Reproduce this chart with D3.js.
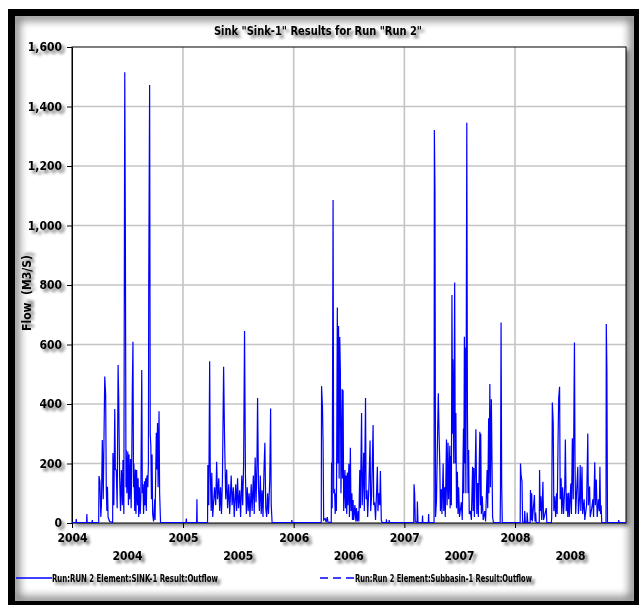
<!DOCTYPE html>
<html>
<head>
<meta charset="utf-8">
<script src="https://cdn.jsdelivr.net/npm/d3@7"></script>
<style>
body { margin: 0; background: #fff; }
svg text { font-family: "Liberation Sans Narrow", "DejaVu Sans Condensed", sans-serif; font-weight: bold; fill: #000; }
</style>
</head>
<body>
<svg id="chart"></svg>
<script>
var title = 'Sink "Sink-1" Results for Run "Run 2"';
var yLabel = "Flow  (M3/S)";
var years = [2004, 2005, 2006, 2007, 2008];
var yTicks = [0, 200, 400, 600, 800, 1000, 1200, 1400, 1600];
var legendLabels = ["Run:RUN 2 Element:SINK-1 Result:Outflow", "Run:Run 2 Element:Subbasin-1 Result:Outflow"];

// [day of year, flow m3/s]
var flow2004 = [[1,1],[14,1],[15,13],[16,1],[49,1],[50,30],[51,1],[67,1],[68,10],[69,1],[89,1],[90,158],[93,140],[96,20],[98,60],[101,279],[104,80],[109,492],[112,430],[114,120],[116,40],[118,122],[120,20],[125,5],[135,2],[136,235],[139,60],[142,383],[144,180],[147,178],[150,50],[153,531],[155,420],[158,158],[161,40],[164,178],[167,60],[169,212],[172,30],[175,1515],[177,970],[179,120],[180,245],[182,100],[185,240],[187,60],[189,230],[191,80],[194,215],[196,50],[198,200],[200,457],[202,609],[204,120],[205,200],[208,40],[210,180],[212,30],[214,178],[217,60],[219,150],[221,20],[223,120],[226,30],[228,90],[231,514],[233,100],[235,130],[237,30],[240,140],[242,60],[244,150],[246,40],[248,160],[251,120],[253,200],[254,786],[257,1472],[259,300],[261,259],[263,80],[265,230],[267,30],[270,5],[274,80],[275,10],[279,303],[281,180],[283,336],[285,120],[288,376],[290,100],[293,1],[366,1]];
var flow2005 = [[1,1],[11,1],[12,15],[13,1],[46,1],[47,80],[48,1],[82,2],[83,195],[86,60],[89,544],[91,180],[94,40],[96,169],[99,20],[105,120],[109,60],[112,206],[115,80],[119,150],[122,40],[125,120],[128,30],[131,140],[135,525],[138,290],[142,80],[145,180],[148,50],[152,130],[155,30],[160,160],[163,60],[167,120],[170,20],[175,130],[178,40],[181,150],[184,50],[188,110],[191,20],[195,160],[198,60],[201,200],[204,645],[207,160],[210,30],[213,120],[216,40],[219,100],[222,20],[226,130],[229,40],[233,160],[236,30],[239,220],[242,70],[245,200],[247,420],[250,120],[253,40],[256,160],[259,30],[262,110],[265,20],[268,170],[271,270],[274,50],[277,20],[280,100],[283,30],[287,140],[290,385],[292,60],[295,1],[359,1],[360,10],[361,1],[365,1]];
var flow2006 = [[1,1],[92,1],[93,460],[96,391],[98,273],[100,10],[105,15],[108,3],[112,20],[114,3],[125,2],[126,203],[128,50],[131,1086],[133,105],[136,110],[138,30],[140,100],[142,40],[145,724],[147,200],[149,662],[151,150],[153,625],[155,512],[157,100],[161,450],[162,150],[164,446],[166,40],[170,178],[172,50],[174,160],[176,30],[178,170],[180,60],[183,199],[185,20],[188,253],[190,40],[193,100],[195,10],[197,77],[199,10],[203,60],[206,5],[208,50],[211,5],[214,40],[216,5],[219,178],[221,50],[225,370],[227,60],[229,120],[232,236],[234,40],[238,420],[240,80],[243,110],[245,20],[249,120],[253,277],[255,40],[258,90],[263,329],[265,60],[268,70],[271,10],[275,120],[277,189],[279,40],[282,100],[285,60],[287,175],[290,10],[293,1],[306,1],[307,12],[308,1],[315,1],[316,10],[317,1],[365,1]];
var flow2007 = [[1,1],[32,1],[33,130],[35,99],[37,5],[43,2],[44,72],[46,1],[60,1],[61,25],[62,1],[80,1],[81,30],[82,1],[99,2],[100,1321],[102,1117],[104,20],[107,75],[110,256],[113,436],[115,329],[118,189],[120,40],[123,113],[125,30],[129,200],[131,40],[134,120],[136,20],[140,281],[142,60],[145,270],[147,80],[151,260],[152,50],[154,225],[156,60],[158,766],[160,300],[161,550],[164,200],[167,808],[169,200],[171,370],[173,50],[176,172],[178,30],[180,120],[183,20],[189,70],[192,10],[196,318],[197,100],[199,626],[200,200],[202,590],[204,100],[207,1345],[209,380],[211,100],[213,245],[215,30],[219,40],[222,10],[226,189],[228,40],[230,185],[232,20],[237,315],[240,30],[243,134],[245,20],[250,307],[252,60],[253,300],[255,30],[258,90],[261,10],[266,40],[269,5],[274,178],[276,50],[279,352],[280,100],[283,467],[285,120],[288,416],[290,210],[292,20],[295,1],[317,1],[318,100],[320,674],[322,134],[324,1],[365,1]];
var flow2008 = [[1,1],[18,1],[19,200],[21,161],[24,140],[26,3],[32,1],[33,40],[35,1],[40,1],[41,35],[43,1],[51,1],[52,111],[54,10],[56,100],[58,5],[65,94],[67,5],[69,35],[71,1],[81,1],[82,178],[84,40],[86,90],[89,10],[93,139],[95,10],[104,50],[106,1],[121,1],[122,20],[124,405],[127,335],[129,40],[132,90],[135,20],[138,100],[140,30],[143,281],[145,420],[148,458],[150,80],[153,150],[155,30],[158,120],[161,30],[165,120],[167,281],[170,40],[173,100],[175,20],[178,102],[180,20],[185,133],[187,30],[190,285],[193,80],[197,607],[199,189],[201,30],[204,100],[208,189],[210,30],[214,90],[216,195],[218,40],[222,189],[224,30],[229,80],[231,10],[237,60],[239,180],[241,301],[243,60],[247,123],[249,20],[254,50],[258,80],[260,20],[264,204],[266,60],[269,146],[272,20],[276,80],[279,40],[281,189],[283,30],[285,60],[287,1],[301,1],[302,669],[304,512],[306,1],[342,1],[343,10],[344,1],[366,1]];

var yearData = [flow2004, flow2005, flow2006, flow2007, flow2008];
var series = [];
years.forEach(function (yr, i) {
    yearData[i].forEach(function (p) {
        series.push({ date: d3.utcDay.offset(new Date(Date.UTC(yr, 0, 1)), p[0] - 1), value: p[1] });
    });
});

var W = 639, H = 605;
var plot = { left: 72, top: 47, right: 626, bottom: 523 };

var svg = d3.select("#chart").attr("width", W).attr("height", H);
var defs = svg.append("defs");

var ts = defs.append("filter").attr("id", "ts").attr("x", "-20%").attr("y", "-60%").attr("width", "160%").attr("height", "240%");
ts.append("feGaussianBlur").attr("in", "SourceAlpha").attr("stdDeviation", 1.6);
ts.append("feOffset").attr("dx", 3).attr("dy", 3);
ts.append("feComponentTransfer").append("feFuncA").attr("type", "linear").attr("slope", 0.55);
var tm = ts.append("feMerge");
tm.append("feMergeNode");
tm.append("feMergeNode").attr("in", "SourceGraphic");

var ps = defs.append("filter").attr("id", "ps").attr("x", "-5%").attr("y", "-5%").attr("width", "115%").attr("height", "115%");
ps.append("feGaussianBlur").attr("in", "SourceAlpha").attr("stdDeviation", 2);
ps.append("feOffset").attr("dx", 3).attr("dy", 3);
ps.append("feComponentTransfer").append("feFuncA").attr("type", "linear").attr("slope", 0.5);
var pm = ps.append("feMerge");
pm.append("feMergeNode");
pm.append("feMergeNode").attr("in", "SourceGraphic");

var blur = defs.append("filter").attr("id", "blur").attr("x", "-10%").attr("y", "-10%").attr("width", "120%").attr("height", "120%");
blur.append("feGaussianBlur").attr("stdDeviation", 5);

defs.append("clipPath").attr("id", "inner")
    .append("rect").attr("x", 15).attr("y", 16).attr("width", 619).attr("height", 585);
defs.append("clipPath").attr("id", "plotclip")
    .append("rect").attr("x", plot.left).attr("y", plot.top - 1)
    .attr("width", plot.right - plot.left).attr("height", plot.bottom - plot.top + 1);

// black frame with inner shadow
svg.append("rect").attr("x", 8).attr("y", 9).attr("width", 640).attr("height", 600).attr("fill", "#000");
svg.append("rect").attr("x", 15).attr("y", 16).attr("width", 619).attr("height", 585).attr("fill", "#fff");
svg.append("g").attr("clip-path", "url(#inner)")
    .append("rect").attr("x", 15).attr("y", 16).attr("width", 619).attr("height", 585)
    .attr("fill", "none").attr("stroke", "#000").attr("stroke-width", 8)
    .attr("opacity", 0.55).attr("filter", "url(#blur)");

var x = d3.scaleUtc()
    .domain([new Date(Date.UTC(2004, 0, 1)), new Date(Date.UTC(2009, 0, 1))])
    .range([plot.left, plot.right]);
var y = d3.scaleLinear().domain([0, 1600]).range([plot.bottom, plot.top]);
var yearStart = years.map(function (d) { return new Date(Date.UTC(d, 0, 1)); });

// plot area
svg.append("rect")
    .attr("x", plot.left).attr("y", plot.top)
    .attr("width", plot.right - plot.left).attr("height", plot.bottom - plot.top)
    .attr("fill", "#fff").attr("filter", "url(#ps)");

// grid
svg.append("g").selectAll("line").data(yTicks.slice(1, -1)).enter().append("line")
    .attr("x1", plot.left).attr("x2", plot.right)
    .attr("y1", d => y(d)).attr("y2", d => y(d))
    .attr("stroke", "#c4c4c4").attr("stroke-width", 1.6);
svg.append("g").selectAll("line").data(yearStart.slice(1)).enter().append("line")
    .attr("x1", d => x(d)).attr("x2", d => x(d))
    .attr("y1", plot.top).attr("y2", plot.bottom)
    .attr("stroke", "#c4c4c4").attr("stroke-width", 1.6);

svg.append("rect")
    .attr("x", plot.left).attr("y", plot.top)
    .attr("width", plot.right - plot.left).attr("height", plot.bottom - plot.top)
    .attr("fill", "none").attr("stroke", "#000").attr("stroke-width", 1);

// axes
var yAxis = d3.axisLeft(y).tickValues(yTicks).tickFormat(d3.format(",")).tickSize(5).tickSizeOuter(0).tickPadding(5);
var gy = svg.append("g").attr("transform", "translate(" + plot.left + ",0)").call(yAxis);
gy.select(".domain").attr("stroke", "#000");
gy.selectAll("text").attr("font-size", 12).attr("filter", "url(#ts)").style("font-family", null);

var xAxis = d3.axisBottom(x).tickValues(yearStart).tickFormat(d3.utcFormat("%Y")).tickSize(5).tickSizeOuter(0).tickPadding(5);
var gx = svg.append("g").attr("transform", "translate(0," + plot.bottom + ")").call(xAxis);
gx.select(".domain").remove();
gx.selectAll("text").attr("font-size", 12).attr("filter", "url(#ts)").style("font-family", null);

// second row: year bands
var band = svg.append("g");
band.selectAll("line").data(yearStart).enter().append("line")
    .attr("x1", d => x(d)).attr("x2", d => x(d))
    .attr("y1", 546).attr("y2", 566)
    .attr("stroke", "#000").attr("stroke-width", 1.5).attr("filter", "url(#ts)");
band.selectAll("text").data(years).enter().append("text")
    .attr("x", d => x(new Date(Date.UTC(d, 6, 2))))
    .attr("y", 560)
    .attr("text-anchor", "middle").attr("font-size", 12).attr("filter", "url(#ts)")
    .text(d => d);

// flow line
var line = d3.line().x(d => x(d.date)).y(d => y(d.value));
svg.append("g").attr("clip-path", "url(#plotclip)")
    .append("path").datum(series)
    .attr("d", line)
    .attr("fill", "none").attr("stroke", "#0000ff").attr("stroke-width", 1.2)
    .attr("stroke-linejoin", "miter");

// title and axis label
svg.append("text")
    .attr("x", 318).attr("y", 35)
    .attr("text-anchor", "middle").attr("font-size", 12)
    .attr("textLength", 208).attr("lengthAdjust", "spacingAndGlyphs")
    .attr("filter", "url(#ts)")
    .text(title);

svg.append("text")
    .attr("transform", "translate(31,293) rotate(-90)")
    .attr("text-anchor", "middle").attr("font-size", 12)
    .attr("filter", "url(#ts)")
    .style("white-space", "pre")
    .text(yLabel);

// legend
var legendPos = [{ x1: 16, x2: 52, dash: null, w: 166 }, { x1: 320, x2: 355, dash: "8,5", w: 177 }];
var lg = svg.append("g");
legendPos.forEach(function (p, i) {
    lg.append("line")
        .attr("x1", p.x1).attr("x2", p.x2).attr("y1", 578).attr("y2", 578)
        .attr("stroke", "#0000ff").attr("stroke-width", 1.3)
        .attr("stroke-dasharray", p.dash);
    lg.append("text")
        .attr("x", p.x2).attr("y", 582)
        .attr("font-size", 10)
        .attr("textLength", p.w).attr("lengthAdjust", "spacingAndGlyphs")
        .attr("filter", "url(#ts)")
        .text(legendLabels[i]);
});
</script>
</body>
</html>
